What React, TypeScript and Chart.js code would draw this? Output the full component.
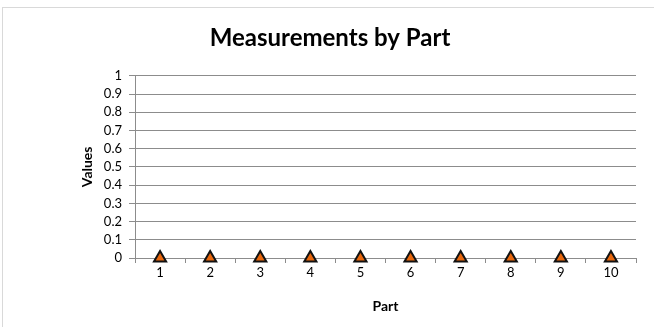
import React, { useEffect, useRef } from "react";
import { Chart, registerables } from "chart.js";

Chart.register(...registerables);

const categories = ["1", "2", "3", "4", "5", "6", "7", "8", "9", "10"];
const seriesBlue = [0, 0, 0, 0, 0, 0, 0, 0, 0, 0];
const seriesOrange = [0, 0, 0, 0, 0, 0, 0, 0, 0, 0];
const chartTitle = "Measurements by Part";
const xTitle = "Part";
const yTitle = "Values";

const FONT = "Lato, 'Open Sans', sans-serif";

export default function App() {
  const ref = useRef<HTMLCanvasElement | null>(null);
  useEffect(() => {
    document.body.style.margin = "0";
    const ctx = ref.current!;
    const chart = new Chart(ctx, {
      type: "line",
      data: {
        labels: categories,
        datasets: [
          {
            label: "Orange",
            data: seriesOrange,
            showLine: false,
            clip: false,
            pointStyle: "triangle",
            pointRadius: 7,
            pointBackgroundColor: "#E8670C",
            pointBorderColor: "#111111",
            pointBorderWidth: 2,
            order: 0,
          },
          {
            label: "Blue",
            data: seriesBlue,
            showLine: false,
            clip: false,
            pointStyle: "circle",
            pointRadius: 3,
            pointBackgroundColor: "rgba(79,129,189,0.45)",
            pointBorderColor: "rgba(79,129,189,0.45)",
            order: 1,
          },
        ],
      },
      options: {
        animation: false,
        responsive: false,
        maintainAspectRatio: false,
        layout: { padding: { left: 24, right: 18, top: 0, bottom: 12 } },
        plugins: {
          legend: { display: false },
          tooltip: { enabled: false },
          title: {
            display: true,
            text: chartTitle,
            color: "#000",
            font: { family: FONT, size: 24, weight: "bold" },
            padding: { top: 24, bottom: 23 },
          },
        },
        scales: {
          x: {
            offset: true,
            grid: {
              offset: true,
              drawOnChartArea: false,
              drawTicks: true,
              tickLength: 5,
              color: "#8c8c8c",
            },
            border: { color: "#8c8c8c" },
            ticks: { color: "#000", font: { family: FONT, size: 13 }, padding: 2, maxRotation: 0, autoSkip: false },
            title: {
              display: true,
              text: xTitle,
              color: "#000",
              font: { family: FONT, size: 14, weight: "bold" },
              padding: 0,
            },
            afterFit: (s: any) => {
              s.height = 57;
            },
          },
          y: {
            min: 0,
            max: 1,
            grid: { color: "#8c8c8c", tickLength: 6 },
            border: { color: "#8c8c8c" },
            ticks: {
              stepSize: 0.1,
              autoSkip: false,
              color: "#000",
              font: { family: FONT, size: 13 },
              padding: 7,
              callback: (v: any) => String(Math.round(Number(v) * 10) / 10),
            },
            title: {
              display: true,
              text: yTitle,
              color: "#000",
              font: { family: FONT, size: 14, weight: "bold" },
              padding: { top: 55, bottom: 0 },
            },
            afterFit: (s: any) => {
              s.width = 111;
            },
          },
        },
      },
    });
    return () => chart.destroy();
  }, []);
  return (
    <div style={{ position: "relative", width: 654, height: 327, overflow: "hidden", background: "#fff" }}>
      <div
        style={{
          position: "absolute",
          left: 2,
          top: 7,
          width: 700,
          height: 400,
          border: "1px solid #d9d9d9",
          boxSizing: "border-box",
        }}
      />
      <canvas ref={ref} width={654} height={327} style={{ position: "absolute", left: 0, top: 0 }} />
    </div>
  );
}
